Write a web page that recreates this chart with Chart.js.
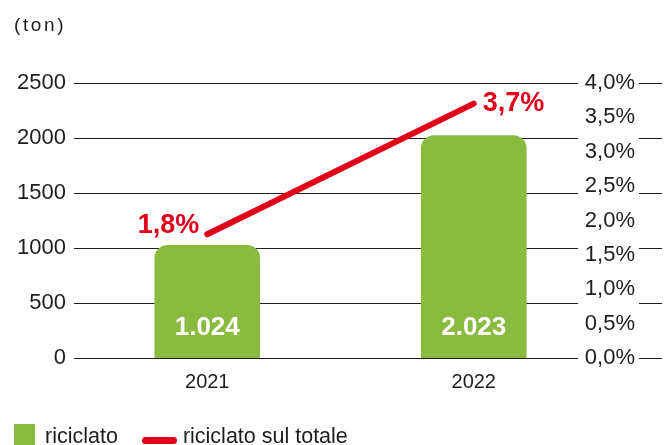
<!DOCTYPE html>
<html>
<head>
<meta charset="utf-8">
<script src="https://cdn.jsdelivr.net/npm/chart.js@4.4.1/dist/chart.umd.min.js"></script>
<style>
  html, body { margin: 0; padding: 0; background: #fff; }
  .wrap { position: relative; width: 670px; height: 445px; overflow: hidden; font-family: "Liberation Sans", Arial, sans-serif; color: #1d1d1b; }
  canvas { position: absolute; left: 0; top: 0; }
  .unit { position: absolute; left: 14px; top: 14px; font-size: 19px; letter-spacing: 2.6px; }
  .legend { position: absolute; left: 14px; top: 424px; display: flex; align-items: flex-start; font-size: 21.5px; }
  .sq { width: 21px; height: 21px; background: #8aba40; margin-right: 10px; }
  .ln { width: 35px; height: 7px; border-radius: 4px; background: #e2001a; margin: 13px 6px 0 24px; }
  .txt { line-height: 21px; margin-top: 2px; }
</style>
</head>
<body>
<div class="wrap">
  <canvas id="chart" width="670" height="445"></canvas>
  <div class="unit">(ton)</div>
  <div class="legend">
    <div class="sq"></div><div class="txt">riciclato</div>
    <div class="ln"></div><div class="txt">riciclato sul totale</div>
  </div>
</div>
<script>
// data
const years = ['2021', '2022'];
const riciclato = [1024, 2023];        // ton
const quotaTotale = [1.8, 3.7];        // %

const green = '#8aba40';
const red = '#e2001a';
const ink = '#1d1d1b';
const font = '"Liberation Sans", Arial, sans-serif';

const fmtTon = v => v.toLocaleString('de-DE');
const fmtPct = v => v.toFixed(1).replace('.', ',') + '%';

// gridlines: broken around the right-hand labels
const gridPlugin = {
  id: 'gridLines',
  beforeDatasetsDraw(chart) {
    const { ctx, chartArea, scales } = chart;
    ctx.save();
    ctx.strokeStyle = ink;
    ctx.lineWidth = 1;
    scales.y.ticks.forEach(t => {
      const y = Math.round(scales.y.getPixelForValue(t.value)) + 0.5;
      ctx.beginPath();
      ctx.moveTo(chartArea.left, y);
      ctx.lineTo(chartArea.right - 29, y);
      ctx.moveTo(chartArea.right + 32, y);
      ctx.lineTo(chartArea.right + 55, y);
      ctx.stroke();
    });
    ctx.restore();
  }
};

const labelPlugin = {
  id: 'valueLabels',
  afterDatasetsDraw(chart) {
    const { ctx, scales } = chart;
    ctx.save();
    ctx.textBaseline = 'middle';

    // bars are dataset 1
    const bars = chart.getDatasetMeta(1).data;
    ctx.fillStyle = '#fff';
    ctx.font = 'bold 26px ' + font;
    ctx.textAlign = 'center';
    bars.forEach((b, i) => {
      ctx.fillText(fmtTon(riciclato[i]), b.x, scales.y.getPixelForValue(0) - 30);
    });

    // line is dataset 0
    const pts = chart.getDatasetMeta(0).data;
    ctx.fillStyle = red;
    ctx.font = 'bold 27px ' + font;
    ctx.textAlign = 'right';
    ctx.fillText(fmtPct(quotaTotale[0]), pts[0].x - 8, pts[0].y - 9);
    ctx.textAlign = 'left';
    ctx.fillText(fmtPct(quotaTotale[1]), pts[1].x + 9, pts[1].y);
    ctx.restore();
  }
};

new Chart(document.getElementById('chart'), {
  type: 'bar',
  data: {
    labels: years,
    datasets: [
      {
        type: 'line',
        label: 'riciclato sul totale',
        data: quotaTotale,
        yAxisID: 'y1',
        borderColor: red,
        borderWidth: 6,
        borderCapStyle: 'round',
        pointRadius: 0,
        order: 0,
      },
      {
        label: 'riciclato',
        data: riciclato,
        yAxisID: 'y',
        backgroundColor: green,
        barThickness: 105,
        borderRadius: { topLeft: 13, topRight: 13 },
        borderSkipped: 'bottom',
        order: 1,
      },
    ],
  },
  options: {
    responsive: false,
    animation: false,
    layout: { padding: { top: 83, bottom: 53, left: 0, right: 0 } },
    plugins: { legend: { display: false }, tooltip: { enabled: false } },
    scales: {
      x: {
        grid: { display: false, drawTicks: false },
        border: { display: false },
        ticks: { color: ink, font: { family: font, size: 20 }, padding: 12 },
        afterFit: s => { s.height = 34; },
      },
      y: {
        position: 'left',
        min: 0, max: 2500,
        ticks: { stepSize: 500, color: ink, font: { family: font, size: 22 }, padding: 8, callback: v => String(v) },
        grid: { display: false, drawTicks: false },
        border: { display: false },
        afterFit: s => { s.width = 74; },
      },
      y1: {
        position: 'right',
        min: 0, max: 4,
        ticks: {
          stepSize: 0.5, color: ink, font: { family: font, size: 22 },
          mirror: true, crossAlign: 'far', padding: 28,
          callback: v => fmtPct(v),
        },
        grid: { display: false, drawTicks: false },
        border: { display: false },
        afterFit: s => { s.width = 63; },
      },
    },
  },
  plugins: [gridPlugin, labelPlugin],
});
</script>
</body>
</html>
